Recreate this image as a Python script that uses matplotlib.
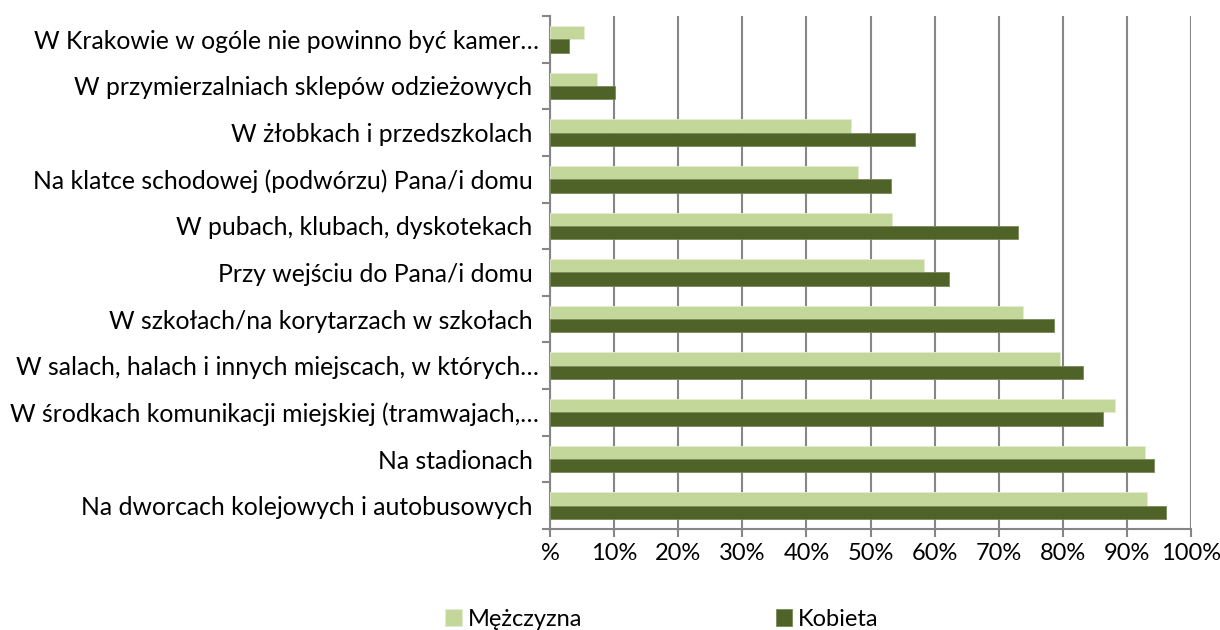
import matplotlib
matplotlib.use("Agg")
import matplotlib.pyplot as plt
import numpy as np

plt.rcParams['font.family'] = ['Lato', 'DejaVu Sans']

categories = [
    "Na dworcach kolejowych i autobusowych ",
    "Na stadionach ",
    "W środkach komunikacji miejskiej (tramwajach,…",
    "W salach, halach i innych miejscach, w których…",
    "W szkołach/na korytarzach w szkołach ",
    "Przy wejściu do Pana/i domu ",
    "W pubach, klubach, dyskotekach ",
    "Na klatce schodowej (podwórzu) Pana/i domu ",
    "W żłobkach i przedszkolach ",
    "W przymierzalniach sklepów odzieżowych ",
    "W Krakowie w ogóle nie powinno być kamer…",
]
men = [93.2, 92.8, 88.2, 79.6, 73.8, 58.3, 53.4, 48.1, 47.0, 7.3, 5.3]
women = [96.1, 94.2, 86.3, 83.1, 78.6, 62.3, 73.0, 53.2, 56.9, 10.1, 2.9]
xticklabels = ["%", "10%", "20%", "30%", "40%", "50%", "60%", "70%", "80%", "90%", "100%"]

c_men = "#C4D79B"
c_women = "#4F6228"
grid_c = "#868686"
fs = 17

fig = plt.figure(figsize=(12.2, 6.3), dpi=100)
ax = fig.add_axes([550/1220, 1-529/630, 641/1220, 513/630])

y = np.arange(len(categories))
h = 0.285
ax.barh(y + h/2, men, height=h, color=c_men, edgecolor="#E4EDCF", linewidth=0.6, label="Mężczyzna", zorder=3)
ax.barh(y - h/2, women, height=h, color=c_women, edgecolor="#7A8A5A", linewidth=0.6, label="Kobieta", zorder=3)

ax.set_xlim(0, 100)
ax.set_ylim(-0.5, len(categories) - 0.5)
ax.set_xticks(np.arange(0, 101, 10))
ax.set_xticklabels(xticklabels, fontsize=fs)
ax.xaxis.grid(True, color=grid_c, linewidth=1.5, zorder=0)
ax.set_axisbelow(True)

ax.set_yticks(np.arange(-0.5, len(categories), 1.0))
ax.set_yticklabels([])
ax.set_yticks(y, minor=True)
ax.set_yticklabels(categories, minor=True, fontsize=17.8)
ax.tick_params(axis='y', which='minor', length=0, pad=8)
ax.tick_params(axis='y', which='major', length=6, width=1.5, color=grid_c)
ax.tick_params(axis='x', length=6, width=1.5, color=grid_c, pad=4)

for s in ["top", "right"]:
    ax.spines[s].set_visible(False)
for s in ["left", "bottom"]:
    ax.spines[s].set_color(grid_c)
    ax.spines[s].set_linewidth(1.5)

handles, labels = ax.get_legend_handles_labels()
fig.legend(handles, labels, loc="center", bbox_to_anchor=(662/1220, 1-619/630), ncol=2,
           frameon=False, fontsize=fs, handlelength=0.7, handleheight=0.7, handletextpad=0.25,
           columnspacing=8.2, borderpad=0)

fig.savefig("out.png", dpi=100)
